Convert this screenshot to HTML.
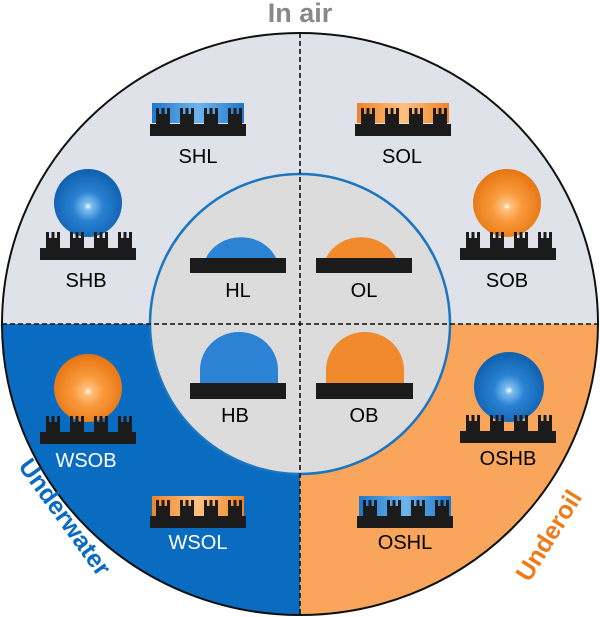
<!DOCTYPE html>
<html><head><meta charset="utf-8"><style>body{margin:0;background:#fff}svg{display:block}text{font-family:"Liberation Sans",sans-serif}</style></head><body>
<svg width="600" height="617" viewBox="0 0 600 617" xmlns="http://www.w3.org/2000/svg">
<defs>
<clipPath id="c"><ellipse cx="300" cy="324" rx="298" ry="291"/></clipPath>
<radialGradient id="bg" cx="0.5" cy="0.55" r="0.55"><stop offset="0" stop-color="#fff"/><stop offset="0.1" stop-color="#7fbdf0"/><stop offset="0.4" stop-color="#2a82d2"/><stop offset="1" stop-color="#0e5fae"/></radialGradient>
<radialGradient id="og" cx="0.5" cy="0.55" r="0.55"><stop offset="0" stop-color="#fff"/><stop offset="0.1" stop-color="#ffc080"/><stop offset="0.4" stop-color="#f99a3c"/><stop offset="1" stop-color="#e57410"/></radialGradient>
<linearGradient id="bl" x1="0" x2="1"><stop offset="0" stop-color="#1d78cc"/><stop offset="0.5" stop-color="#6fb4ee"/><stop offset="1" stop-color="#1d78cc"/></linearGradient>
<linearGradient id="ol" x1="0" x2="1"><stop offset="0" stop-color="#ef8426"/><stop offset="0.5" stop-color="#ffc080"/><stop offset="1" stop-color="#ef8426"/></linearGradient>
<g id="sub">
<rect x="0" y="16" width="96" height="12" fill="#1b1b1b"/>
<g fill="#1b1b1b">
<rect x="6" y="6" width="14" height="11"/><rect x="30" y="6" width="14" height="11"/><rect x="54" y="6" width="14" height="11"/><rect x="78" y="6" width="14" height="11"/>
<rect x="6" y="0" width="3" height="7"/><rect x="11.5" y="0" width="3" height="7"/><rect x="17" y="0" width="3" height="7"/>
<rect x="30" y="0" width="3" height="7"/><rect x="35.5" y="0" width="3" height="7"/><rect x="41" y="0" width="3" height="7"/>
<rect x="54" y="0" width="3" height="7"/><rect x="59.5" y="0" width="3" height="7"/><rect x="65" y="0" width="3" height="7"/>
<rect x="78" y="0" width="3" height="7"/><rect x="83.5" y="0" width="3" height="7"/><rect x="89" y="0" width="3" height="7"/>
</g></g>
</defs>
<g clip-path="url(#c)">
<rect x="0" y="0" width="600" height="324" fill="#dfe3e9"/>
<rect x="0" y="324" width="300" height="300" fill="#0a6cc0"/>
<rect x="300" y="324" width="300" height="300" fill="#f9a65c"/>
</g>
<ellipse cx="300" cy="324" rx="298" ry="291" fill="none" stroke="#111" stroke-width="2"/>
<circle cx="300" cy="324" r="150" fill="#dcdcdc" stroke="#1a75c2" stroke-width="2.5"/>
<line x1="300" y1="33" x2="300" y2="615" stroke="#111" stroke-width="1.6" stroke-dasharray="5,3"/>
<line x1="2" y1="324" x2="598" y2="324" stroke="#111" stroke-width="1.6" stroke-dasharray="5,3"/>
<text x="300" y="22" text-anchor="middle" font-size="27" font-weight="bold" fill="#888">In air</text>
<text transform="translate(58,522) rotate(54)" text-anchor="middle" font-size="25" font-weight="bold" fill="#0a6cc0">Underwater</text>
<text transform="translate(556,540) rotate(-58)" text-anchor="middle" font-size="25" font-weight="bold" fill="#f07a1a">Underoil</text>
<rect x="152" y="103" width="92" height="20" fill="url(#bl)"/><use href="#sub" x="150" y="108"/>
<text x="198" y="163" text-anchor="middle" font-size="20">SHL</text>
<rect x="357" y="103" width="92" height="20" fill="url(#ol)"/><use href="#sub" x="355" y="108"/>
<text x="402" y="163" text-anchor="middle" font-size="20">SOL</text>
<circle cx="88" cy="203" r="34" fill="url(#bg)"/><use href="#sub" x="40" y="232"/>
<text x="86" y="287" text-anchor="middle" font-size="20">SHB</text>
<circle cx="507" cy="203" r="34" fill="url(#og)"/><use href="#sub" x="460" y="232"/>
<text x="507" y="287" text-anchor="middle" font-size="20">SOB</text>
<path d="M206 258 A38 34 0 0 1 276 258 Z" fill="#2c82d4"/><rect x="190" y="258" width="96" height="15" fill="#1b1b1b"/>
<text x="238" y="297" text-anchor="middle" font-size="20">HL</text>
<path d="M326 258 A38 34 0 0 1 396 258 Z" fill="#f08a2c"/><rect x="316" y="258" width="96" height="15" fill="#1b1b1b"/>
<text x="364" y="297" text-anchor="middle" font-size="20">OL</text>
<path d="M200 383 L200 370 A39 38 0 0 1 278 370 L278 383 Z" fill="#2c82d4"/><rect x="190" y="383" width="96" height="16" fill="#1b1b1b"/>
<text x="235" y="422" text-anchor="middle" font-size="20">HB</text>
<path d="M326 383 L326 370 A39 38 0 0 1 404 370 L404 383 Z" fill="#f08a2c"/><rect x="316" y="383" width="97" height="16" fill="#1b1b1b"/>
<text x="364" y="422" text-anchor="middle" font-size="20">OB</text>
<circle cx="88" cy="388" r="34" fill="url(#og)"/><use href="#sub" x="40" y="416"/>
<text x="86" y="467" text-anchor="middle" font-size="20" fill="#fff">WSOB</text>
<rect x="152" y="496" width="92" height="20" fill="url(#ol)"/><use href="#sub" x="150" y="500"/>
<text x="198" y="549" text-anchor="middle" font-size="20" fill="#fff">WSOL</text>
<circle cx="509" cy="387" r="35" fill="url(#bg)"/><use href="#sub" x="460" y="415"/>
<text x="508" y="465" text-anchor="middle" font-size="20">OSHB</text>
<rect x="359" y="496" width="92" height="20" fill="url(#bl)"/><use href="#sub" x="357" y="500"/>
<text x="405" y="549" text-anchor="middle" font-size="20">OSHL</text>
</svg>
</body></html>
